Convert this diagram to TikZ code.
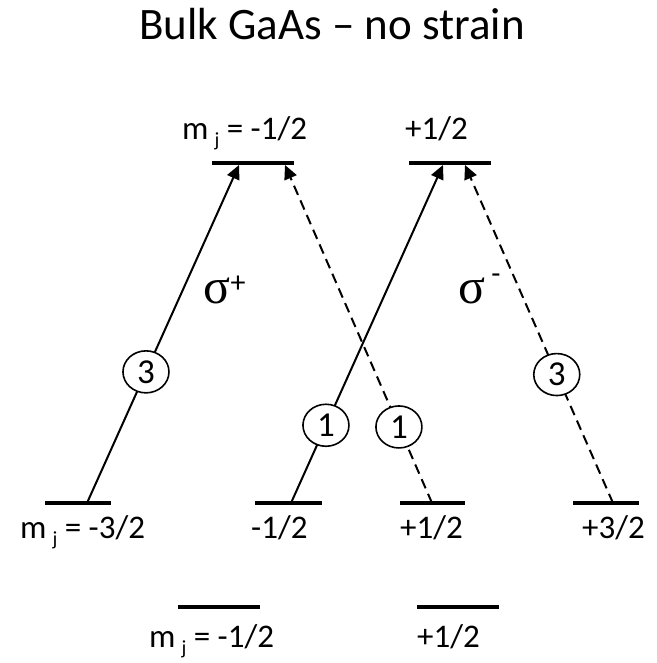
\documentclass[tikz,border=0pt]{standalone}
\usepackage{fontspec}
\setmainfont{Carlito}
\newfontfamily\sigfont{Liberation Serif}
\usetikzlibrary{arrows.meta,shapes.geometric}
\newcommand{\mjsub}{m\hspace{6pt}\raisebox{-7pt}{\fontsize{20}{20}\selectfont j}\ }
\begin{document}
\begin{tikzpicture}[x=1pt,y=-1pt,
  level/.style={line width=4pt},
  lbl/.style={anchor=base west,inner sep=0pt,font=\fontsize{33}{33}\selectfont},
  trans/.style={line width=2pt,-{Triangle[length=14pt,width=13pt]}},
  transd/.style={trans,dash pattern=on 10pt off 6pt},
  circ/.style={ellipse,draw,solid,line width=1.6pt,fill=white,minimum width=46pt,minimum height=42pt,inner sep=0pt,font=\fontsize{35}{35}\selectfont},
  sig/.style={anchor=base west,inner sep=0pt,font=\sigfont\fontsize{50}{50}\selectfont},
  sup/.style={inner sep=0pt,font=\fontsize{30}{30}\selectfont}]
\useasboundingbox (0,0) rectangle (656,663);
\fill[white] (0,0) rectangle (656,663);
% title
\node[anchor=base,inner sep=0pt,font=\fontsize{45}{45}\selectfont] (title) at (332,40) {Bulk GaAs – no strain};
% top levels
\coordinate (tla) at (212,163); \coordinate (tlb) at (294,163);
\coordinate (tra) at (409,163); \coordinate (trb) at (491,163);
\draw[level] (tla) -- (tlb);
\draw[level] (tra) -- (trb);
\node[lbl] (ltl) at (182,140) {\mjsub= -1/2};
\node[lbl] (ltr) at (405,140) {+1/2};
% middle levels
\coordinate (m1a) at (45,503); \coordinate (m1b) at (111,503);
\coordinate (m2a) at (255,503); \coordinate (m2b) at (322,503);
\coordinate (m3a) at (400,503); \coordinate (m3b) at (465,503);
\coordinate (m4a) at (573,503); \coordinate (m4b) at (639,503);
\draw[level] (m1a) -- (m1b);
\draw[level] (m2a) -- (m2b);
\draw[level] (m3a) -- (m3b);
\draw[level] (m4a) -- (m4b);
\node[lbl] (lm1) at (20,538) {\mjsub= -3/2};
\node[lbl] (lm2) at (251,538) {-1/2};
\node[lbl] (lm3) at (400,538) {+1/2};
\node[lbl] (lm4) at (582,538) {+3/2};
% bottom levels
\coordinate (b1a) at (178,607); \coordinate (b1b) at (260,607);
\coordinate (b2a) at (417,607); \coordinate (b2b) at (499,607);
\draw[level] (b1a) -- (b1b);
\draw[level] (b2a) -- (b2b);
\node[lbl] (lb1) at (149,647) {\mjsub= -1/2};
\node[lbl] (lb2) at (417,647) {+1/2};
% transitions
\coordinate (s1) at (87,503);  \coordinate (e1) at (239,165);
\coordinate (s2) at (291,503); \coordinate (e2) at (443,165);
\coordinate (s3) at (432,503); \coordinate (e3) at (285,165);
\coordinate (s4) at (613,503); \coordinate (e4) at (465,165);
\draw[trans] (s1) -- node[circ,pos=0.388] (c1) {3} (e1);
\draw[trans] (s2) -- node[circ,pos=0.23] (c2) {1} (e2);
\draw[transd] (s3) -- node[circ,pos=0.225] (c3) {1} (e3);
\draw[transd] (s4) -- node[circ,pos=0.38] (c4) {3} (e4);
% sigma labels
\node[sig] (sgp) at (203,303) {σ};
\node[sup] (sgpp) at (238,284) {+};
\node[sig] (sgm) at (458,303) {σ};
\node[sup] (sgmm) at (496,279) {-};
\end{tikzpicture}
\end{document}
